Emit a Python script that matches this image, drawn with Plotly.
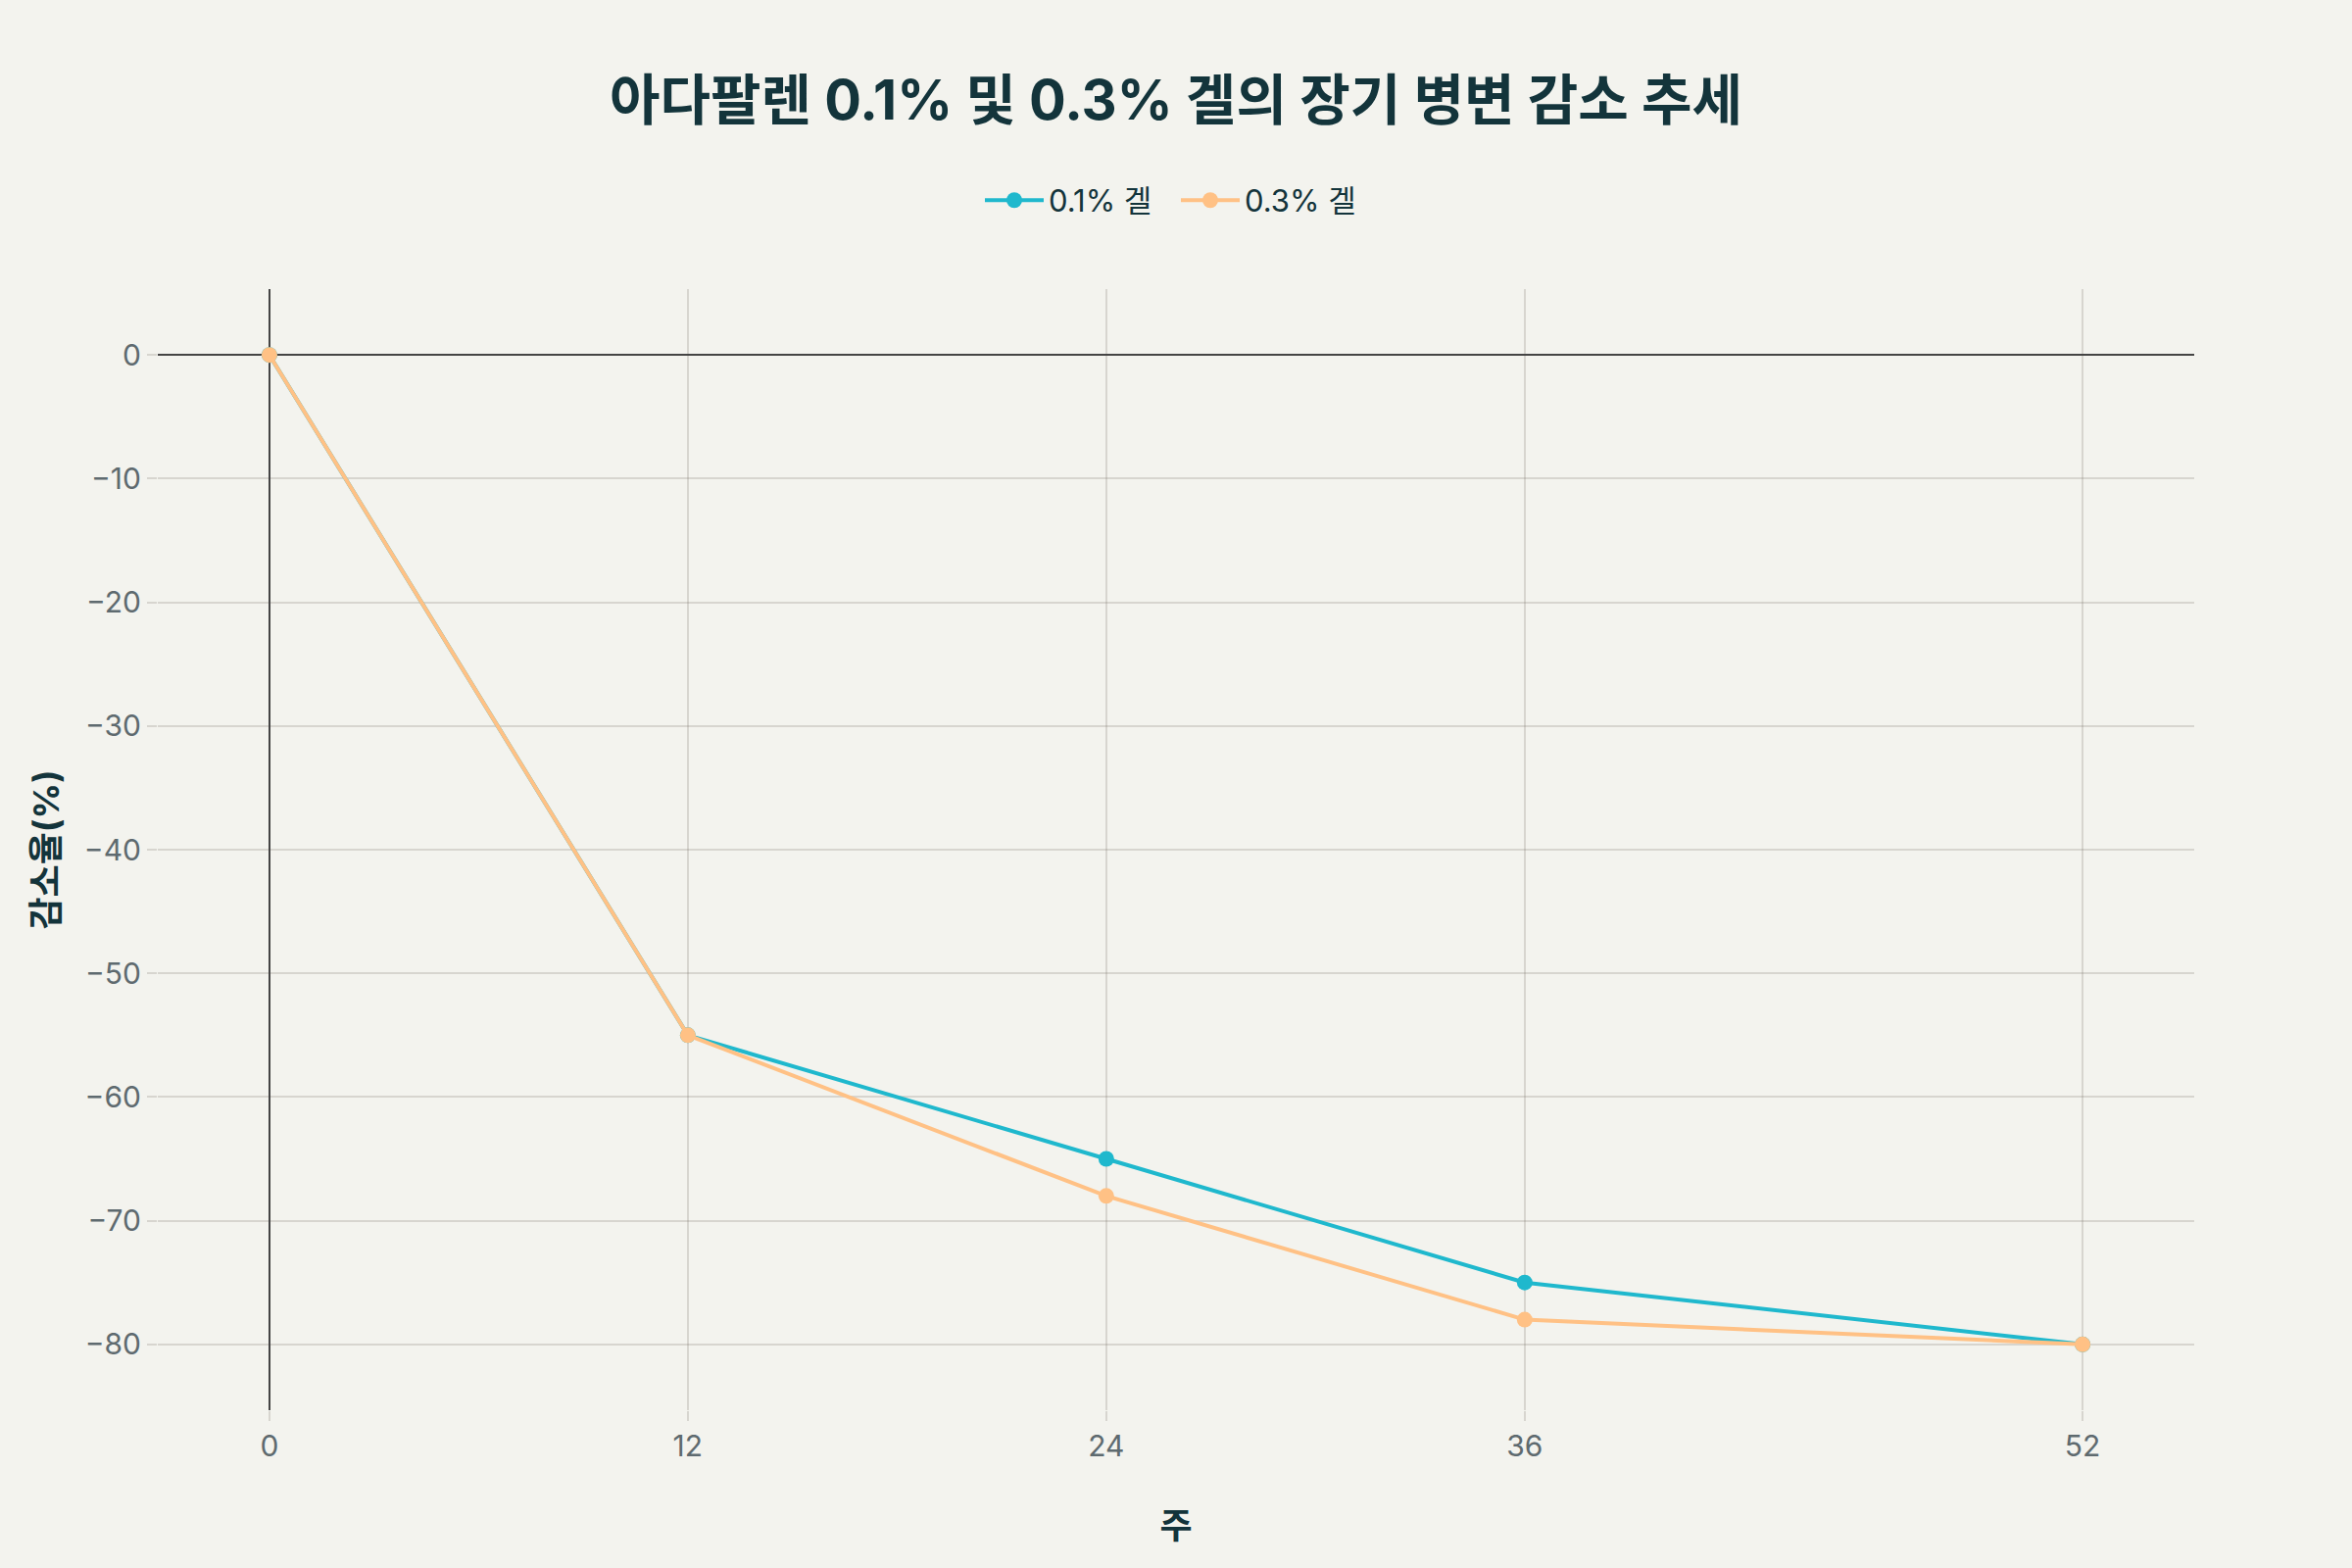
from plotly import graph_objects as go

# weeks on the x axis and lesion reduction (%) for each gel strength
weeks = [0, 12, 24, 36, 52]
gel_01 = [0, -55, -65, -75, -80]
gel_03 = [0, -55, -68, -78, -80]
series_names = ["0.1% 겔", "0.3% 겔"]
series_colors = ["#1FB8CD", "#FFC185"]

title_text = "아다팔렌 0.1% 및 0.3% 겔의 장기 병변 감소 추세"
x_title = "주"
y_title = "감소율(%)"

FONT = "Inter, 'Noto Sans CJK KR', sans-serif"
BG = "#F3F3EE"
GRID = "rgba(120,110,100,0.22)"

fig = go.Figure()
for name, ys, color in zip(series_names, [gel_01, gel_03], series_colors):
    fig.add_trace(
        go.Scatter(
            x=weeks,
            y=ys,
            mode="lines+markers",
            name=name,
            line=dict(color=color, width=4),
            marker=dict(color=color, size=16),
            cliponaxis=False,
        )
    )

axis_common = dict(
    title_font=dict(size=36, color="#13343B", family=FONT),
    tickfont=dict(size=30, color="#5E6A6F"),
    showgrid=True,
    gridcolor=GRID,
    gridwidth=2,
    zeroline=True,
    zerolinecolor="#444444",
    zerolinewidth=2,
    ticks="outside",
    ticklen=10,
    tickcolor=GRID,
    tickwidth=2,
    showline=False,
)
fig.update_xaxes(
    title_text="<b>" + x_title + "</b>",
    title_standoff=52,
    tickvals=weeks,
    **axis_common,
)
fig.update_yaxes(
    title_text="<b>" + y_title + "</b>",
    title_standoff=14,
    dtick=10,
    **axis_common,
)

fig.update_layout(
    font=dict(family=FONT, color="#13343B"),
    title=dict(
        text="<b>" + title_text + "</b>",
        x=0.5,
        xanchor="center",
        y=1 - 102 / 1600,
        yanchor="middle",
        font=dict(size=56, color="#13343B"),
    ),
    legend=dict(
        orientation="h",
        yanchor="middle",
        y=1.079,
        xanchor="center",
        x=0.5,
        font=dict(size=31, color="#13343B"),
        bgcolor="rgba(0,0,0,0)",
        itemwidth=60,
        entrywidth=125,
    ),
    paper_bgcolor=BG,
    plot_bgcolor=BG,
    margin=dict(t=295, l=161, r=161, b=161),
    width=2400,
    height=1600,
)

fig.write_html(
    "out.html",
    config={"displayModeBar": False},
    post_script="document.body.style.margin='0';document.body.style.background='%s';" % BG,
)
